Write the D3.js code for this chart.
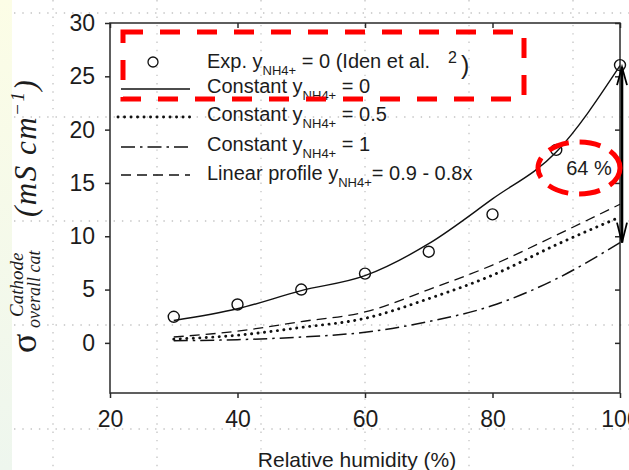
<!DOCTYPE html>
<html>
<head>
<meta charset="utf-8">
<script src="https://cdn.jsdelivr.net/npm/d3@7"></script>
<style>
  html, body { margin: 0; padding: 0; background: #fff; }
  svg { display: block; }
  text { font-family: "Liberation Sans", Arial, sans-serif; fill: #1c1c1c; }
</style>
</head>
<body>
<svg id="chart" width="629" height="470"></svg>
<script>
// ---------- data ----------
const rh = [30, 40, 50, 60, 70, 80, 90, 100];
const expIden = [2.45, 3.6, 5.0, 6.5, 8.55, 12.05, 18.1, 26.05];
const constant0 = [2.1, 3.2, 4.9, 6.3, 9.3, 13.5, 17.9, 26.0];
const constant05 = [0.35, 0.72, 1.45, 2.3, 4.15, 6.35, 9.2, 11.8];
const constant1 = [0.2, 0.3, 0.55, 1.0, 2.0, 3.5, 6.0, 9.4];
const linearProfile = [0.55, 1.1, 2.0, 2.9, 5.0, 7.3, 10.1, 13.0];
const xTicks = [20, 40, 60, 80, 100];
const yTicks = [0, 5, 10, 15, 20, 25, 30];
const legendMain = ["Exp. y", "Constant y", "Constant y", "Constant y", "Linear profile y"];
const legendSub = ["NH4+", "NH4+", "NH4+", "NH4+", "NH4+"];
const legendTail = [" = 0 (Iden et al.", " = 0", " = 0.5", " = 1", "= 0.9 - 0.8x"];
const annotationText = "64 %";

// ---------- setup ----------
const svg = d3.select("#chart");
const x = d3.scaleLinear().domain([20, 100]).range([110, 620]);
const y = d3.scaleLinear().domain([-4.7, 30]).range([393, 23]);

// left pale strip
const defs = svg.append("defs");
const grad = defs.append("linearGradient").attr("id", "strip").attr("x1", 0).attr("y1", 0).attr("x2", 0).attr("y2", 1);
grad.append("stop").attr("offset", "0%").attr("stop-color", "#fcfde6");
grad.append("stop").attr("offset", "100%").attr("stop-color", "#eef6ee");
svg.append("rect").attr("x", 0).attr("y", 0).attr("width", 12).attr("height", 470).attr("fill", "url(#strip)");

// background dotted guide grid (slide grid)
const gx = d3.range(53, 629, 104), gy = d3.range(13, 470, 104);
const guide = svg.append("g").attr("stroke", "#c4c4c4").attr("stroke-width", 1.3).attr("stroke-dasharray", "1.4,6.9");
guide.selectAll("line.v").data(gx).join("line").attr("x1", d => d).attr("x2", d => d).attr("y1", 0).attr("y2", 470);
guide.selectAll("line.h").data(gy).join("line").attr("y1", d => d).attr("y2", d => d).attr("x1", 14).attr("x2", 629);

// ---------- axes ----------
const axisColor = "#2a2a2a";
function styleAxis(g) {
  g.select(".domain").remove();
  g.selectAll(".tick line").attr("stroke", axisColor).attr("stroke-width", 1.5);
  g.selectAll(".tick text").attr("fill", "#1c1c1c").style("font-size", "23px").style("font-family", "'Liberation Sans', Arial, sans-serif");
}
svg.append("g").attr("transform", `translate(0,${y.range()[0]})`)
  .call(d3.axisBottom(x).tickValues(xTicks).tickSize(5).tickPadding(13).tickFormat(d3.format("d")))
  .call(styleAxis);
svg.append("g").attr("transform", `translate(${x.range()[0]},0)`)
  .call(d3.axisLeft(y).tickValues(yTicks).tickSize(5).tickPadding(10).tickFormat(d3.format("d")))
  .call(styleAxis);
svg.append("g").attr("transform", `translate(0,${y.range()[1]})`)
  .call(d3.axisTop(x).tickValues(xTicks).tickSize(-5).tickFormat(""))
  .call(styleAxis);
svg.append("g").attr("transform", `translate(${x.range()[1]},0)`)
  .call(d3.axisRight(y).tickValues(yTicks).tickSize(-5).tickFormat(""))
  .call(styleAxis);
// frame
svg.append("rect").attr("x", x.range()[0]).attr("y", y.range()[1])
  .attr("width", x.range()[1] - x.range()[0]).attr("height", y.range()[0] - y.range()[1])
  .attr("fill", "none").attr("stroke", axisColor).attr("stroke-width", 1.5);

// ---------- lines ----------
const styles = {
  solid: { w: 1.4, dash: null, cap: "butt" },
  dotted: { w: 2.9, dash: "0.1,6.4", cap: "round" },
  dashdot: { w: 1.5, dash: "14,5,2.5,5", cap: "butt" },
  dashed: { w: 1.3, dash: "10,6", cap: "butt" }
};
const series = [
  { vals: constant0, st: styles.solid },
  { vals: constant05, st: styles.dotted },
  { vals: constant1, st: styles.dashdot },
  { vals: linearProfile, st: styles.dashed }
];
const line = d3.line().x((d, i) => x(rh[i])).y(d => y(d)).curve(d3.curveMonotoneX);
svg.append("g").selectAll("path").data(series).join("path")
  .attr("d", d => line(d.vals)).attr("fill", "none").attr("stroke", "#111")
  .attr("stroke-width", d => d.st.w).attr("stroke-dasharray", d => d.st.dash)
  .attr("stroke-linecap", d => d.st.cap);

// experimental points
svg.append("g").selectAll("circle").data(expIden).join("circle")
  .attr("cx", (d, i) => x(rh[i])).attr("cy", d => y(d)).attr("r", 5.5)
  .attr("fill", "none").attr("stroke", "#111").attr("stroke-width", 1.4);

// ---------- legend ----------
const lg = svg.append("g");
const rowY = [62, 89, 117, 147, 175];
const rowBase = [68, 93, 121, 151, 180];
const rowStyle = [null, styles.solid, styles.dotted, styles.dashdot, styles.dashed];
lg.append("circle").attr("cx", 153).attr("cy", rowY[0]).attr("r", 5).attr("fill", "none").attr("stroke", "#111").attr("stroke-width", 1.3);
for (let i = 1; i < 5; i++) {
  const st = rowStyle[i];
  lg.append("line").attr("x1", i === 2 ? 118 : 121).attr("x2", 190).attr("y1", rowY[i]).attr("y2", rowY[i])
    .attr("stroke", "#111").attr("stroke-width", st.w).attr("stroke-dasharray", st.dash).attr("stroke-linecap", st.cap);
}
legendMain.forEach((m, i) => {
  const t = lg.append("text").attr("x", 207).attr("y", rowBase[i]).style("font-size", "20px");
  t.append("tspan").text(m);
  t.append("tspan").attr("dy", 7).style("font-size", "13px").text(legendSub[i]);
  t.append("tspan").attr("dy", -7).text(legendTail[i]);
});
lg.append("text").attr("x", 448).attr("y", 63).style("font-size", "16px").text("2");
lg.append("text").attr("x", 461).attr("y", 74).style("font-size", "25px").style("font-family", "'Liberation Sans', Arial").text(")");

// red dashed box
svg.append("rect").attr("x", 123).attr("y", 32).attr("width", 401).attr("height", 67)
  .attr("fill", "none").attr("stroke", "#ff0000").attr("stroke-width", 5).attr("stroke-dasharray", "20,17");

// ---------- annotation ----------
const ax = x(100) + 2;
const yTop = y(expIden[expIden.length - 1]) + 2;
const yBot = y(constant1[constant1.length - 1]);
const ann = svg.append("g").attr("stroke", "#000").attr("fill", "none").attr("stroke-width", 2.6);
ann.append("line").attr("x1", ax).attr("x2", ax).attr("y1", yTop).attr("y2", yBot);
ann.append("path").attr("d", `M${ax - 5},${yTop + 18}L${ax},${yTop}L${ax + 5},${yTop + 18}`).attr("stroke-width", 1.8);
ann.append("path").attr("d", `M${ax - 5},${yBot - 20}L${ax},${yBot}L${ax + 5},${yBot - 20}`).attr("stroke-width", 1.8);

svg.append("ellipse").attr("cx", 579).attr("cy", 168).attr("rx", 41).attr("ry", 26)
  .attr("fill", "none").attr("stroke", "#ff0000").attr("stroke-width", 5).attr("stroke-dasharray", "21,11");
svg.append("text").attr("x", 589).attr("y", 175).attr("text-anchor", "middle").style("font-size", "20px").text(annotationText);

// ---------- axis titles ----------
svg.append("text").attr("x", 357).attr("y", 467).attr("text-anchor", "middle").style("font-size", "21px").text("Relative humidity (%)");

const yl = svg.append("g").attr("transform", "translate(36,353) rotate(-90)");
const serif = "'Liberation Serif', 'Times New Roman', serif";
yl.append("text").attr("x", 0).attr("y", 0).style("font-family", serif).style("font-size", "36px").text("σ");
yl.append("text").attr("x", 25).attr("y", 4).style("font-family", serif).style("font-style", "italic").style("font-size", "18px").text("overall cat");
yl.append("text").attr("x", 36).attr("y", -13).style("font-family", serif).style("font-style", "italic").style("font-size", "19px").text("Cathode");
const yt = yl.append("text").attr("x", 136).attr("y", 0).style("font-family", serif).style("font-style", "italic").style("font-size", "31px").style("letter-spacing", "1.5px");
yt.append("tspan").text("(mS cm");
yt.append("tspan").attr("dy", -12).style("font-size", "19px").text("−1");
yt.append("tspan").attr("dy", 12).text(")");
</script>
</body>
</html>
